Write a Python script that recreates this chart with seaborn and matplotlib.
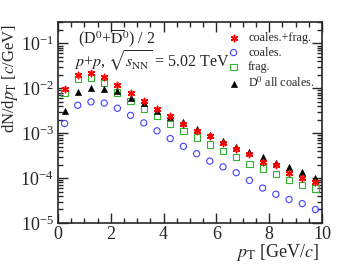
import numpy as np
import pandas as pd
import matplotlib
matplotlib.use("Agg")
import matplotlib.pyplot as plt
import seaborn as sns
from matplotlib.ticker import MultipleLocator, LogLocator, NullFormatter

sns.set_style("ticks")
plt.rcParams['font.family'] = ['Liberation Serif', 'DejaVu Serif']
plt.rcParams['mathtext.fontset'] = 'stix'

pt = [0.25, 0.75, 1.25, 1.75, 2.25, 2.75, 3.25, 3.75, 4.25, 4.75,
      5.25, 5.75, 6.25, 6.75, 7.25, 7.75, 8.25, 8.75, 9.25, 9.75]
coal_frag = [0.0095, 0.0195, 0.0218, 0.0176, 0.0118, 0.0079, 0.0051, 0.0034, 0.0024, 0.00161,
             0.00115, 0.00085, 0.00061, 0.00044, 0.00034, 0.000229, 0.000194, 0.000129, 0.0001, 0.000083]
coal = [0.00165, 0.0042, 0.0050, 0.0047, 0.0036, 0.0025, 0.0017, 0.00113, 0.00076, 0.00051,
        0.00035, 0.00024, 0.000178, 0.000132, 0.000089, 0.000060, 0.0000437, 0.0000333, 0.000027, 0.0000200]
frag = [0.0080, 0.0159, 0.0174, 0.0130, 0.0081, 0.0053, 0.0035, 0.0024, 0.0016, 0.00110,
        0.00080, 0.00056, 0.00041, 0.00030, 0.000209, 0.000164, 0.000123, 0.000091, 0.000069, 0.000059]
d0_all = [0.0031, 0.0081, 0.0100, 0.0097, 0.0086, 0.0061, 0.0046, 0.0031, 0.0023, 0.00174,
          0.00125, 0.00093, 0.00068, 0.00050, 0.00038, 0.00029, 0.000219, 0.000174, 0.000134, 0.000103]
labels = ["coales.+frag.", "coales.", "frag.", r"D$^0$ all coales."]

fig = plt.figure(figsize=(3.39, 2.69), dpi=100)
ax = fig.add_axes([0.171, 0.171, 0.779, 0.747])

styles = [
    dict(data=coal_frag, marker=(6, 2, 0), color='#ff0000', open=False, s=20, lw=1.1),
    dict(data=coal, marker='o', color='#4040ff', open=True, s=20, lw=0.8),
    dict(data=frag, marker='s', color='#33b233', open=True, s=20, lw=0.8),
    dict(data=d0_all, marker='^', color='black', open=False, s=20, lw=0.4),
]
handles = []
for i in [1, 2, 3, 0]:
    st = styles[i]
    df = pd.DataFrame({"pt": pt, "y": st['data']})
    if st['open']:
        sns.scatterplot(data=df, x="pt", y="y", ax=ax, marker=st['marker'], s=st['s'],
                        facecolors='none', edgecolor=st['color'], linewidth=st['lw'], zorder=3)
    else:
        sns.scatterplot(data=df, x="pt", y="y", ax=ax, marker=st['marker'], s=st['s'],
                        color=st['color'], edgecolor=st['color'], linewidth=st['lw'],
                        zorder=4 if i == 0 else 3)

for st, lab in zip(styles, labels):
    if st['open']:
        h = ax.scatter([], [], marker=st['marker'], s=st['s'], facecolors='none',
                       edgecolors=st['color'], linewidths=st['lw'], label=lab)
    else:
        h = ax.scatter([], [], marker=st['marker'], s=st['s'], color=st['color'],
                       linewidths=st['lw'], label=lab)
    handles.append(h)

ax.set_yscale('log')
ax.set_xlim(0, 10)
ax.set_ylim(1e-5, 0.3)
ax.set_xticks([0, 2, 4, 6, 8, 10])
ax.xaxis.set_minor_locator(MultipleLocator(0.5))
ax.yaxis.set_major_locator(LogLocator(base=10, numticks=10))
ax.yaxis.set_minor_locator(LogLocator(base=10, subs=np.arange(2, 10), numticks=20))
ax.yaxis.set_minor_formatter(NullFormatter())
ax.tick_params(which='both', direction='in', top=True, right=True, labelsize=13, width=1.0)
ax.tick_params(which='major', length=7)
ax.tick_params(which='minor', length=3.5)
ax.tick_params(axis='x', pad=2)
ax.tick_params(axis='y', pad=3)
for sp in ax.spines.values():
    sp.set_linewidth(1.2)

ax.set_xlabel(r"$p_{\rm T}$ [GeV/$c$]", fontsize=13, loc='right')
ax.xaxis.set_label_coords(0.99, -0.095)
ax.set_ylabel(r"dN/d$p_{\rm T}$ [$c$/GeV]", fontsize=12, loc='top')
ax.yaxis.set_label_coords(-0.145, 0.99)

ax.text(0.075, 0.915, r"(D$^0$+$\overline{\rm D}^0$) / 2", transform=ax.transAxes,
        fontsize=11.5, va='center', ha='left', zorder=6)
ax.text(0.06, 0.805, r"$p$+$p$, $\sqrt{s_{\rm NN}}$ = 5.02 TeV", transform=ax.transAxes,
        fontsize=11.5, va='center', ha='left', zorder=6)

ax.legend(handles=handles, labels=labels, loc='upper left', bbox_to_anchor=(0.642, 0.95),
          frameon=False, fontsize=8.7, handletextpad=0.7, labelspacing=0.22,
          borderaxespad=0.0, borderpad=0.0, handlelength=1.0)

fig.savefig("out.png", dpi=100)
